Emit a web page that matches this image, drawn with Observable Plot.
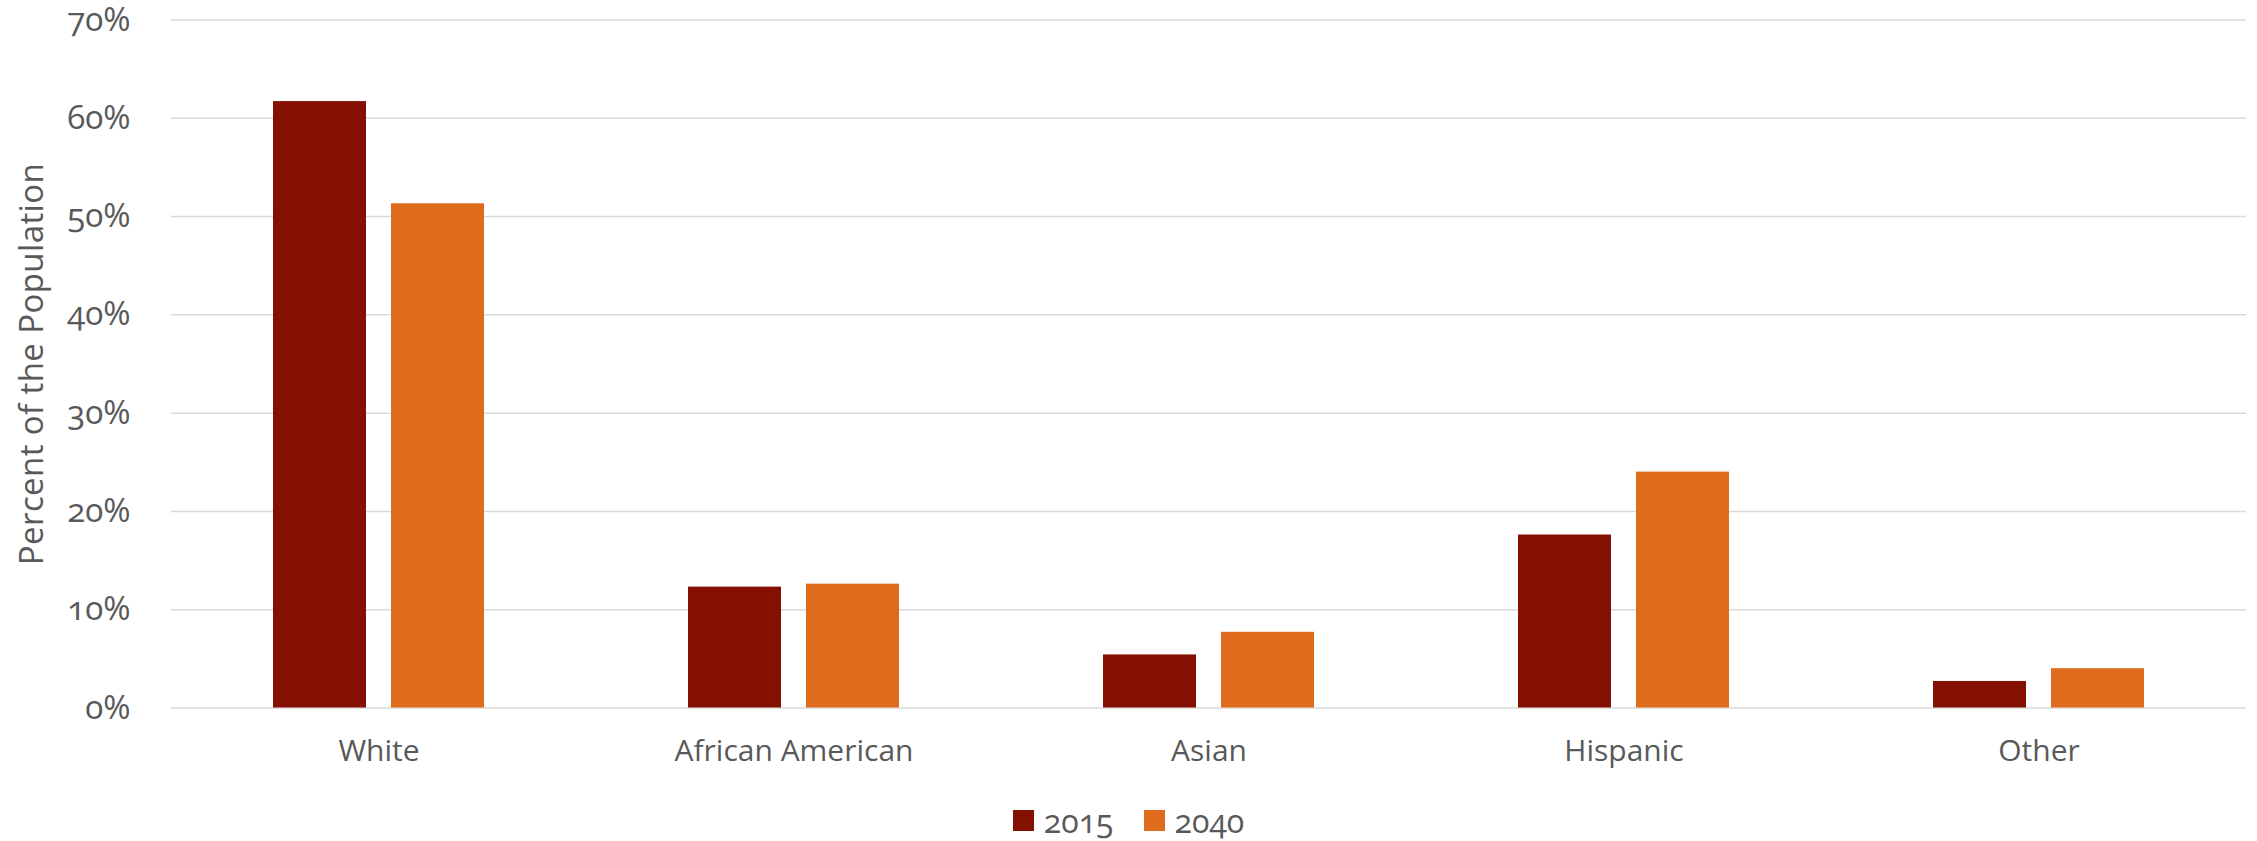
<!DOCTYPE html>
<html>
<head>
<meta charset="utf-8">
<script src="https://cdn.jsdelivr.net/npm/d3@7"></script>
<script src="https://cdn.jsdelivr.net/npm/@observablehq/plot@0.6"></script>
<style>
  html, body { margin: 0; padding: 0; background: #fff; }
  body { width: 2257px; font-family: "Open Sans", sans-serif; color: #595959; }
  #chart svg { display: block; overflow: visible; }
  #chart g[aria-label="y-axis tick label"] text { font-variant-numeric: oldstyle-nums; font-size: 33px; }
  #chart g[aria-label="y-axis label"] text { font-size: 33px; letter-spacing: 0.4px; }
  #legend { display: flex; justify-content: center; align-items: center; height: 40px; margin-top: 10px; font-size: 32px; color: #595959; font-variant-numeric: oldstyle-nums; }
  #legend .item { display: flex; align-items: center; margin: 0 15px; }
  #legend .sw { width: 21px; height: 21px; margin-right: 10px; }
</style>
</head>
<body>
<div id="chart"></div>
<div id="legend"></div>
<script>
const categories = ["White", "African American", "Asian", "Hispanic", "Other"];
const years = ["2015", "2040"];
const values2015 = [61.7, 12.3, 5.4, 17.6, 2.7];
const values2040 = [51.3, 12.6, 7.7, 24.0, 4.0];
const yTicks = [0, 10, 20, 30, 40, 50, 60, 70];
const colors = ["#831000", "#DF6C1D"];

const rows = [];
categories.forEach((c, i) => {
  rows.push({category: c, year: years[0], value: values2015[i]});
  rows.push({category: c, year: years[1], value: values2040[i]});
});

const chart = Plot.plot({
  width: 2257,
  height: 790,
  marginLeft: 169,
  marginRight: 9,
  marginTop: 19.5,
  marginBottom: 82.5,
  style: {fontFamily: "Open Sans, sans-serif", fontSize: "30px", color: "#595959", background: "#fff"},
  fx: {domain: categories, paddingInner: 0, paddingOuter: 0, axis: "bottom", tickSize: 0, tickPadding: 32, label: null},
  x: {domain: years, type: "band", paddingInner: 0.214, paddingOuter: 0.864, axis: null},
  y: {domain: [0, 70], ticks: yTicks, tickFormat: d => d + "%", tickSize: 0, tickPadding: 41,
      label: "Percent of the Population", labelArrow: "none", labelAnchor: "center", labelOffset: 152},
  color: {domain: years, range: colors},
  marks: [
    Plot.ruleY(yTicks, {stroke: "#d9d9d9", strokeWidth: 1.5}),
    Plot.barY(rows, {fx: "category", x: "year", y: "value", fill: "year"})
  ]
});
document.getElementById("chart").appendChild(chart);

const legend = document.getElementById("legend");
years.forEach((y, i) => {
  const item = document.createElement("div");
  item.className = "item";
  const sw = document.createElement("span");
  sw.className = "sw";
  sw.style.background = colors[i];
  const t = document.createElement("span");
  t.textContent = y;
  item.appendChild(sw);
  item.appendChild(t);
  legend.appendChild(item);
});
</script>
</body>
</html>
